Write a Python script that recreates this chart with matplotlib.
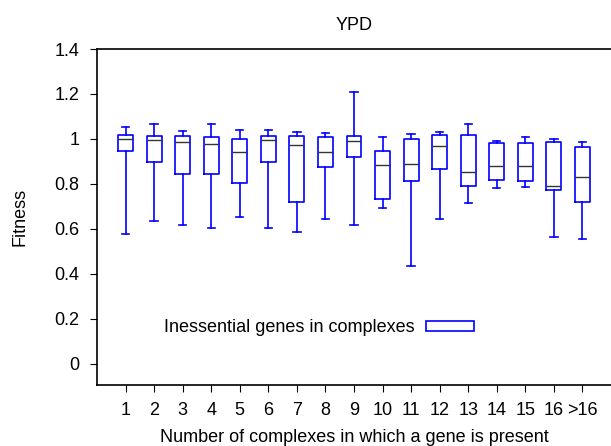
import matplotlib
matplotlib.use("Agg")
from matplotlib import pyplot as plt
from matplotlib.patches import Patch

plt.rcParams['font.family'] = ['Liberation Sans', 'DejaVu Sans']

labels = ['1', '2', '3', '4', '5', '6', '7', '8', '9', '10', '11', '12', '13', '14', '15', '16', '>16']
whislo = [0.578, 0.637, 0.619, 0.604, 0.655, 0.604, 0.585, 0.643, 0.616, 0.695, 0.434, 0.644, 0.716, 0.784, 0.786, 0.564, 0.556]
q1 = [0.948, 0.899, 0.844, 0.845, 0.806, 0.899, 0.719, 0.876, 0.920, 0.732, 0.815, 0.867, 0.793, 0.818, 0.811, 0.774, 0.720]
med = [1.000, 0.997, 0.987, 0.978, 0.940, 0.994, 0.975, 0.942, 0.989, 0.884, 0.888, 0.967, 0.853, 0.879, 0.881, 0.793, 0.832]
q3 = [1.019, 1.012, 1.012, 1.010, 1.001, 1.012, 1.015, 1.009, 1.012, 0.946, 0.998, 1.018, 1.019, 0.982, 0.980, 0.985, 0.963]
whishi = [1.051, 1.068, 1.034, 1.068, 1.042, 1.039, 1.031, 1.027, 1.207, 1.007, 1.024, 1.029, 1.065, 0.992, 1.010, 1.000, 0.985]

stats = []
for i in range(len(labels)):
    stats.append(dict(label=labels[i], whislo=whislo[i], q1=q1[i], med=med[i],
                      q3=q3[i], whishi=whishi[i], fliers=[]))

fig = plt.figure(figsize=(6.11, 4.46), dpi=100)
ax = fig.add_axes([97/611, 1 - 385/446, 514/611, 336/446])

blue = '#0000ff'
ax.bxp(stats, positions=range(1, len(labels) + 1), widths=0.52, showfliers=False,
       boxprops=dict(color=blue, linewidth=1.2),
       whiskerprops=dict(color=blue, linewidth=1.2),
       capprops=dict(color=blue, linewidth=1.2),
       medianprops=dict(color='#333333', linewidth=1.0))

ax.set_xlim(0, 18)
ax.set_ylim(-0.094, 1.4)
ax.set_yticks([0, 0.2, 0.4, 0.6, 0.8, 1.0, 1.2, 1.4])
ax.set_yticklabels(['0', '0.2', '0.4', '0.6', '0.8', '1', '1.2', '1.4'])
ax.spines['right'].set_visible(False)
for s in ['left', 'bottom', 'top']:
    ax.spines[s].set_linewidth(1.2)
ax.tick_params(labelsize=13, length=5, direction='out', pad=7.5)

ax.set_title("YPD", fontsize=13, pad=14)
ax.set_ylabel("Fitness", fontsize=13, labelpad=19)
ax.set_xlabel("Number of complexes in which a gene is present", fontsize=13, labelpad=7)

handle = Patch(facecolor='white', edgecolor=blue, linewidth=1.2)
ax.legend([handle], ["Inessential genes in complexes"], loc='center left',
          bbox_to_anchor=(0.099, 0.17), frameon=False, markerfirst=False,
          fontsize=13, handlelength=2.7, handleheight=0.55, handletextpad=0.6)

plt.savefig("out.png", dpi=100)
